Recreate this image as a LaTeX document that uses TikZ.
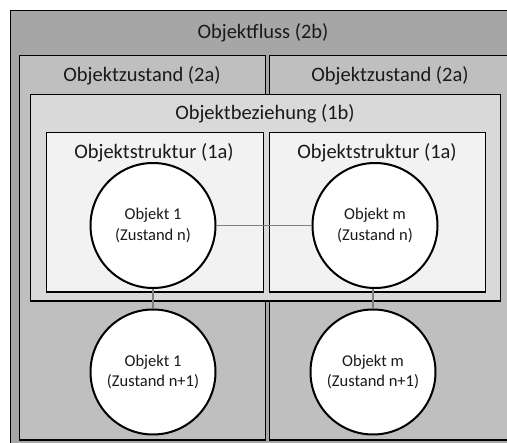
\documentclass[tikz,border=0pt]{standalone}
\usepackage{fontspec}
\setmainfont{Carlito}
\definecolor{gray2b}{HTML}{A6A6A6}
\definecolor{gray2a}{HTML}{BFBFBF}
\definecolor{gray1b}{HTML}{D9D9D9}
\definecolor{gray1a}{HTML}{F2F2F2}
\definecolor{txt}{HTML}{1A1A1A}
\begin{document}
\begin{tikzpicture}[x=1pt,y=-1pt,
  box/.style={draw=black, line width=1.3pt, inner sep=0pt, anchor=north west},
  lbl/.style={font=\fontsize{20.5}{24}\selectfont, text=txt, inner sep=0pt},
  obj/.style={circle, draw=black, line width=2pt, fill=white, minimum size=125pt,
              inner sep=0pt, align=center, text=txt, font=\fontsize{16.5}{20.5}\selectfont},
  link/.style={draw=black!50, line width=1.3pt}]
\useasboundingbox (0,0) rectangle (507,443);
\fill[white] (0,0) rectangle (507,443);
\clip (0,0) rectangle (507,443);
% boxes
\node[box, fill=gray2b, minimum width=510pt, minimum height=440pt] (flow) at (10,10) {};
\node[box, fill=gray2a, minimum width=246pt, minimum height=384.5pt] (stateL) at (19,55) {};
\node[box, fill=gray2a, minimum width=242pt, minimum height=384.5pt] (stateR) at (269,55) {};
\node[box, fill=gray1b, minimum width=470pt, minimum height=206.5pt] (rel) at (30,94) {};
\node[box, fill=gray1a, minimum width=217pt, minimum height=159.5pt] (strL) at (46,132) {};
\node[box, fill=gray1a, minimum width=216pt, minimum height=159.5pt] (strR) at (269,132) {};
% labels
\node[lbl] (t2b) at (263,33) {Objektfluss (2b)};
\node[lbl] (t2aL) at (142,76) {Objektzustand (2a)};
\node[lbl] (t2aR) at (390,76) {Objektzustand (2a)};
\node[lbl] (t1b) at (265,114) {Objektbeziehung (1b)};
\node[lbl] (t1aL) at (154,153) {Objektstruktur (1a)};
\node[lbl] (t1aR) at (377,153) {Objektstruktur (1a)};
% objects
\node[obj] (o1n) at (153,225.5) {Objekt 1\\(Zustand n)};
\node[obj] (omn) at (375,225.5) {Objekt m\\(Zustand n)};
\node[obj] (o1n1) at (153,372) {Objekt 1\\(Zustand n+1)};
\node[obj] (omn1) at (373,372) {Objekt m\\(Zustand n+1)};
% links
\draw[link] (o1n) -- (omn);
\draw[link] (o1n) -- (o1n1);
\draw[link] (omn1.north) -- (omn1.north |- omn.south);
\end{tikzpicture}
\end{document}
